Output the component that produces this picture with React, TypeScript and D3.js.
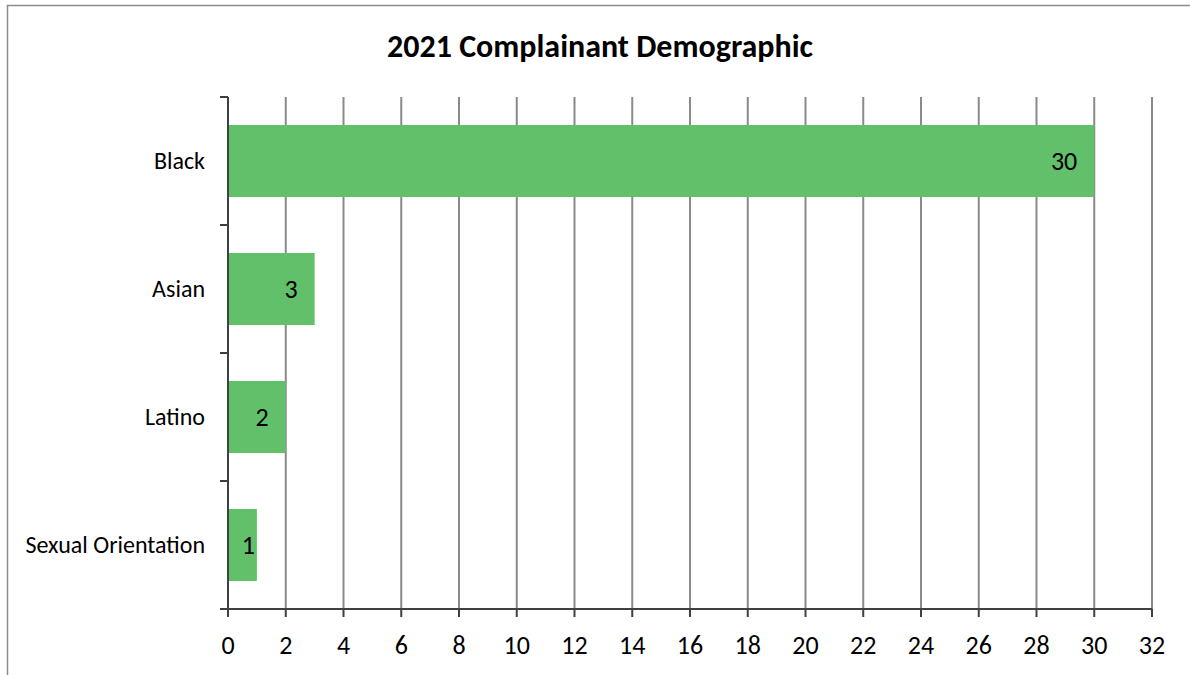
import * as React from 'react';
import * as d3 from 'd3';

const categories = ['Black', 'Asian', 'Latino', 'Sexual Orientation'];
const values = [30, 3, 2, 1];
const xTicks = d3.range(0, 33, 2);
const title = '2021 Complainant Demographic';

const W = 1190;
const H = 675;
const margin = { top: 97, right: 38, bottom: 66, left: 228 };
const font = "Carlito, Calibri, 'Open Sans', 'DejaVu Sans', sans-serif";

export default function App() {
    const ref = React.useRef<SVGSVGElement>(null);

    React.useEffect(() => {
        const svg = d3.select(ref.current);
        svg.selectAll('*').remove();

        const x = d3.scaleLinear().domain([0, 32]).range([margin.left, W - margin.right]);
        const y = d3.scaleBand<string>().domain(categories)
            .range([margin.top, H - margin.bottom])
            .paddingInner(0.4375).paddingOuter(0.21875);

        // chart frame
        svg.append('rect')
            .attr('x', 7.5).attr('y', 5.5)
            .attr('width', W + 20).attr('height', H + 20)
            .attr('fill', 'none').attr('stroke', '#8c8c8c').attr('stroke-width', 1.5);

        svg.append('text')
            .attr('x', 600).attr('y', 57)
            .attr('text-anchor', 'middle')
            .style('font-family', font).style('font-size', '32px').style('font-weight', 'bold')
            .text(title);

        const y0 = margin.top;
        const y1 = H - margin.bottom;

        // vertical gridlines
        svg.append('g').selectAll('line')
            .data(xTicks.slice(1))
            .join('line')
            .attr('x1', d => x(d)).attr('x2', d => x(d))
            .attr('y1', y0).attr('y2', y1)
            .attr('stroke', '#8a8a8a').attr('stroke-width', 2);

        // bars
        svg.append('g').selectAll('rect')
            .data(values)
            .join('rect')
            .attr('x', x(0))
            .attr('y', (d, i) => y(categories[i])!)
            .attr('width', d => x(d) - x(0))
            .attr('height', y.bandwidth())
            .attr('fill', '#62bf6a');

        // value labels (inside end, kept inside the bar start)
        svg.append('g').selectAll('text')
            .data(values)
            .join('text')
            .attr('x', d => Math.max(x(d) - 17, x(0) + 27))
            .attr('y', (d, i) => y(categories[i])! + y.bandwidth() / 2 + 9)
            .attr('text-anchor', 'end')
            .style('font-family', font).style('font-size', '26px')
            .text(d => d);

        // x axis
        const xAxis = svg.append('g');
        xAxis.append('line')
            .attr('x1', margin.left - 8).attr('x2', x(32))
            .attr('y1', y1).attr('y2', y1)
            .attr('stroke', '#404040').attr('stroke-width', 2);
        xAxis.selectAll('line.tick')
            .data(xTicks)
            .join('line')
            .attr('class', 'tick')
            .attr('x1', d => x(d)).attr('x2', d => x(d))
            .attr('y1', y1).attr('y2', y1 + 8)
            .attr('stroke', '#404040').attr('stroke-width', 2);
        xAxis.selectAll('text')
            .data(xTicks)
            .join('text')
            .attr('x', d => x(d)).attr('y', y1 + 45)
            .attr('text-anchor', 'middle')
            .style('font-family', font).style('font-size', '26px')
            .text(d => d);

        // y axis
        const yAxis = svg.append('g');
        yAxis.append('line')
            .attr('x1', x(0)).attr('x2', x(0))
            .attr('y1', y0).attr('y2', y1)
            .attr('stroke', '#404040').attr('stroke-width', 2);
        const step = y.step();
        const bounds = d3.range(categories.length + 1).map(i => y0 + i * step);
        yAxis.selectAll('line.tick')
            .data(bounds)
            .join('line')
            .attr('class', 'tick')
            .attr('x1', x(0) - 8).attr('x2', x(0))
            .attr('y1', d => d).attr('y2', d => d)
            .attr('stroke', '#404040').attr('stroke-width', 2);
        yAxis.selectAll('text')
            .data(categories)
            .join('text')
            .attr('x', x(0) - 23)
            .attr('y', d => y(d)! + y.bandwidth() / 2 + 8)
            .attr('text-anchor', 'end')
            .style('font-family', font).style('font-size', '24px')
            .text(d => d);
    }, []);

    return (
        <svg ref={ref} width={W} height={H}
            style={{ position: 'absolute', left: 0, top: 0, background: '#fff' }} />
    );
}
